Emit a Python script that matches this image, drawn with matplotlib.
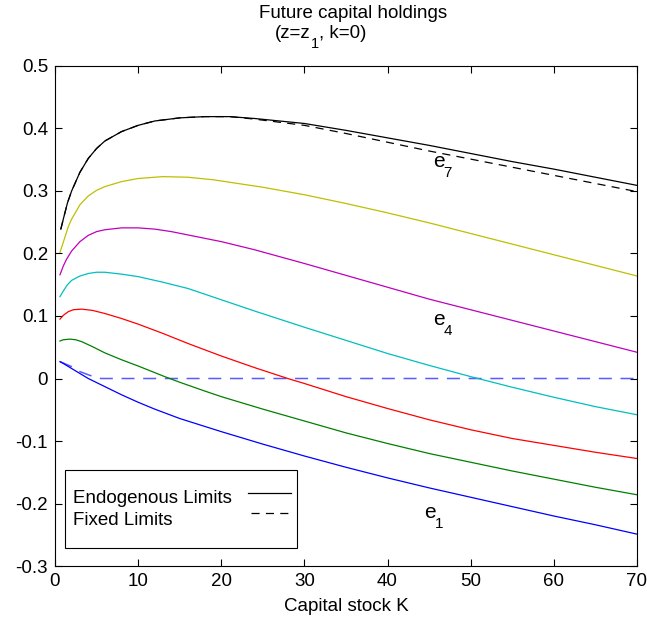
import numpy as np
import matplotlib
matplotlib.use("Agg")
import matplotlib.pyplot as plt
from matplotlib.patches import Rectangle

plt.rcParams['font.family'] = ['Liberation Sans', 'DejaVu Sans']

# future capital holdings vs capital stock K, one curve per efficiency level
k_e7 = [0.7, 1, 1.5, 2, 3, 4, 5, 6, 8, 10, 12, 15, 18, 21, 24, 30, 35, 40, 45, 50, 55, 60, 65, 70]
e7_endo = [0.239, 0.255, 0.281, 0.300, 0.330, 0.352, 0.368, 0.380, 0.395, 0.405, 0.412, 0.417, 0.419, 0.419, 0.416,
           0.408, 0.397, 0.385, 0.373, 0.360, 0.347, 0.335, 0.322, 0.309]
e7_fixed = [0.239, 0.255, 0.281, 0.300, 0.330, 0.352, 0.368, 0.380, 0.395, 0.405, 0.412, 0.417, 0.419, 0.419, 0.415,
            0.405, 0.392, 0.378, 0.364, 0.351, 0.338, 0.325, 0.312, 0.299]

k_e6 = [0.6, 1, 1.6, 2, 3, 4, 5, 6, 8, 10, 13, 16, 19, 22, 25, 30, 35, 40, 45, 50, 55, 60, 65, 70]
e6 = [0.202, 0.218, 0.243, 0.255, 0.278, 0.292, 0.301, 0.307, 0.315, 0.320, 0.323, 0.322, 0.318, 0.312, 0.306,
      0.294, 0.280, 0.265, 0.249, 0.232, 0.215, 0.198, 0.181, 0.164]

k_e5 = [0.6, 1, 1.4, 2, 3, 4, 5, 6, 8, 10, 12, 14, 17, 20, 24, 30, 35, 40, 45, 50, 55, 60, 65, 70]
e5 = [0.166, 0.180, 0.191, 0.204, 0.219, 0.229, 0.235, 0.238, 0.241, 0.241, 0.239, 0.235, 0.227, 0.219, 0.206,
      0.184, 0.165, 0.146, 0.127, 0.110, 0.093, 0.076, 0.059, 0.042]

k_e4 = [0.6, 1, 1.5, 2, 3, 4, 5, 6, 8, 10, 13, 16, 20, 24, 30, 35, 40, 45, 50, 55, 60, 65, 70]
e4 = [0.131, 0.140, 0.150, 0.157, 0.164, 0.168, 0.170, 0.170, 0.167, 0.163, 0.154, 0.144, 0.126, 0.108,
      0.082, 0.061, 0.040, 0.021, 0.003, -0.014, -0.030, -0.045, -0.058]

k_e3 = [0.6, 1, 1.6, 2.2, 3.2, 4.5, 6, 8, 10, 13, 16, 20, 24.1, 28, 30, 35, 40, 45, 50, 55, 60, 65, 70]
e3 = [0.095, 0.101, 0.107, 0.110, 0.111, 0.109, 0.104, 0.096, 0.087, 0.072, 0.056, 0.036, 0.017, 0.0,
      -0.008, -0.029, -0.048, -0.066, -0.082, -0.096, -0.107, -0.118, -0.128]

k_e2 = [0.6, 1, 1.8, 2.5, 3.2, 4.5, 6, 8, 10, 13.2, 15, 18, 20, 25, 30, 35, 40, 45, 50, 55, 60, 65, 70]
e2 = [0.060, 0.062, 0.063, 0.062, 0.059, 0.051, 0.041, 0.030, 0.020, 0.003, -0.006, -0.020, -0.029, -0.049,
      -0.068, -0.087, -0.104, -0.120, -0.134, -0.148, -0.161, -0.174, -0.186]

k_e1 = [0.6, 1, 2, 3, 4, 6, 8, 10, 12, 15, 20, 25, 30, 35, 40, 45, 50, 55, 60, 65, 70]
e1 = [0.027, 0.024, 0.016, 0.008, 0.0, -0.013, -0.026, -0.038, -0.049, -0.064, -0.085, -0.105, -0.124, -0.142,
      -0.159, -0.175, -0.190, -0.205, -0.220, -0.234, -0.249]

k_e1_fixed = [0.6, 2, 3, 4.2, 5.5, 70]
e1_fixed = [0.027, 0.019, 0.011, 0.005, 0.0, 0.0]

xticks = [0, 10, 20, 30, 40, 50, 60, 70]
yticks = [-0.3, -0.2, -0.1, 0, 0.1, 0.2, 0.3, 0.4, 0.5]
ytick_labels = ["-0.3", "-0.2", "-0.1", "0", "0.1", "0.2", "0.3", "0.4", "0.5"]

fig = plt.figure(figsize=(6.47, 6.19), dpi=100)
ax = fig.add_axes([0.085, 0.0856, 0.8995, 0.8078])

lw = 0.9
ax.plot(k_e1_fixed, e1_fixed, color="#5a5aff", lw=1.1, ls=(0, (8.5, 5.7)))
ax.plot(k_e7, e7_fixed, color="black", lw=lw, ls=(0, (6.5, 5)))
ax.plot(k_e7, e7_endo, color="black", lw=lw)
ax.plot(k_e6, e6, color=(0.75, 0.75, 0), lw=lw)
ax.plot(k_e5, e5, color=(0.75, 0, 0.75), lw=lw)
ax.plot(k_e4, e4, color=(0, 0.75, 0.75), lw=lw)
ax.plot(k_e3, e3, color="red", lw=lw)
ax.plot(k_e2, e2, color=(0, 0.5, 0), lw=lw)
ax.plot(k_e1, e1, color="blue", lw=lw)

fs = 13.5

# curve labels e_n with a large, low subscript
for lx, ly, sub in [(45.47, 0.338, "7"), (45.47, 0.0856, "4"), (44.38, -0.223, "1")]:
    ax.text(lx, ly, "e", fontsize=15, va="baseline")
    ax.annotate(sub, (lx, ly), xytext=(7.6, -7.2), textcoords="offset points",
                fontsize=11, va="baseline")

ax.set_xlim(0, 70)
ax.set_ylim(-0.3, 0.5)
ax.set_xticks(xticks)
ax.set_yticks(yticks)
ax.set_yticklabels(ytick_labels)
ax.tick_params(direction="in", top=True, right=True, labelsize=fs, length=5, pad=5)
ax.set_xlabel("Capital stock K", fontsize=fs, labelpad=6)

# legend box
ax.add_patch(Rectangle((0.017, 0.036), 0.399, 0.156, transform=ax.transAxes,
                       facecolor="white", edgecolor="black", lw=0.8, zorder=5))
ax.text(0.031, 0.126, "Endogenous Limits", transform=ax.transAxes, fontsize=fs, va="baseline", zorder=6)
ax.text(0.031, 0.082, "Fixed Limits", transform=ax.transAxes, fontsize=fs, va="baseline", zorder=6)
ax.plot([0.332, 0.405], [0.146, 0.146], transform=ax.transAxes, color="black", lw=lw, zorder=6)
ax.plot([0.336, 0.405], [0.106, 0.106], transform=ax.transAxes, color="black", lw=lw,
        ls=(0, (6.5, 5)), zorder=6)

# title, second line built from pieces so the subscript sits low
fig.text(0.5456, 1 - 18 / 619, "Future capital holdings", ha="center", va="baseline", fontsize=fs)
renderer = fig.canvas.get_renderer()
px = 275
pieces = [("(z=z", fs, 38), ("1", 10.5, 48), (", k=0)", fs, 38)]
for txt, size, base in pieces:
    t = fig.text(px / 647, 1 - base / 619, txt, ha="left", va="baseline", fontsize=size)
    px += t.get_window_extent(renderer).width

fig.savefig("out.png", dpi=100)
